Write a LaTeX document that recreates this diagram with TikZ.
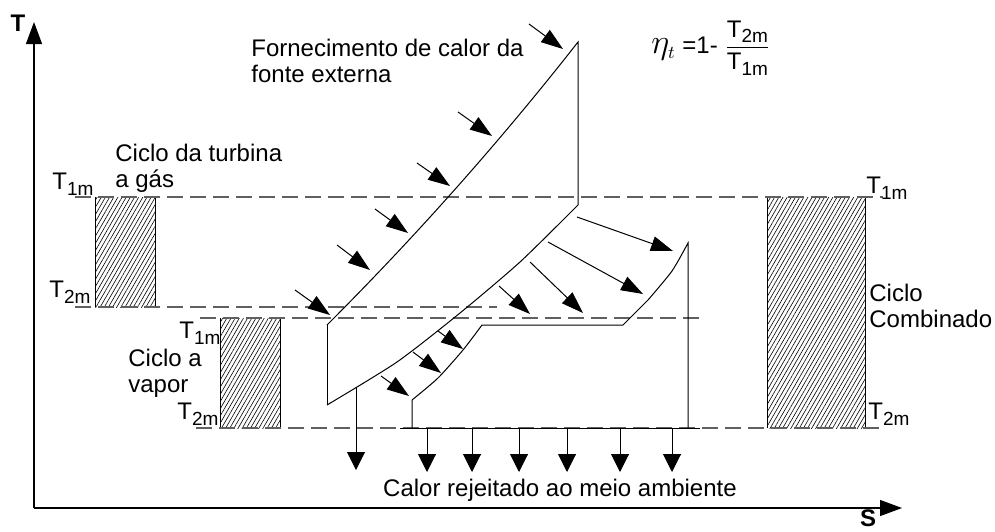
\documentclass[tikz,border=0pt]{standalone}
\usepackage{fontspec}
\setmainfont{Liberation Sans}
\usetikzlibrary{arrows.meta,patterns.meta}
\newcommand{\Tsb}[1]{T\raisebox{-0.45ex}{\fontsize{9.5}{9.5}\selectfont #1}}
\begin{document}
\begin{tikzpicture}[x=0.5pt,y=-0.5pt,
	every node/.style={font=\fontsize{12}{13}\selectfont,inner sep=0pt},
	level/.style={gray!75!black,line width=0.6pt,dash pattern=on 8pt off 3.5pt},
	hatchbox/.style={pattern={Lines[angle=60,distance=1.8pt,line width=0.3pt]}},
	heat/.style={-{Triangle[length=11pt,width=7.5pt]},line width=0.5pt},
	reject/.style={-{Triangle[length=9pt,width=9pt]},line width=0.5pt},
	axis/.style={-{Triangle[length=11pt,width=8pt]},line width=0.6pt},
	cycle/.style={line width=0.5pt}]
	\useasboundingbox (0,0) rectangle (995,531);
	\draw [axis] (34,508) -- (34,22);
	\draw [axis] (34,508) -- (902,508);
	\node (tlab) at (18,23) {\bfseries T};
	\node (slab) at (868,518) {\bfseries S};
	\path [hatchbox] (95,197) rectangle (155,307);
	\draw [cycle] (95,197) -- (95,307) (155,197) -- (155,307);
	\path [hatchbox] (220,318) rectangle (280,428);
	\draw [cycle] (220,318) -- (220,428) (280,318) -- (280,428);
	\path [hatchbox] (767,197) rectangle (865,428);
	\draw [cycle] (767,197) -- (767,428) (865,197) -- (865,428);
	\draw [level] (75,197) -- (883,197);
	\draw [level] (75,307) -- (497,307);
	\draw [level] (200,318) -- (703,318);
	\draw [level] (196,428) -- (883,428);
	\node (g1m) at (73,184) {\Tsb{1m}};
	\node (g2m) at (70,292) {\Tsb{2m}};
	\node (v1m) at (200,333) {\Tsb{1m}};
	\node (v2m) at (198,414) {\Tsb{2m}};
	\node (c1m) at (887,188) {\Tsb{1m}};
	\node (c2m) at (889,414) {\Tsb{2m}};
	\node (gaslab) [anchor=west,align=left] at (115,168) {Ciclo da turbina\\a gás};
	\node (vaplab) [anchor=west,align=left] at (128,373) {Ciclo a\\vapor};
	\node (comblab) [anchor=west,align=left] at (869,306) {Ciclo\\Combinado};
	\node (inlab) [anchor=west,align=left] at (251,61) {Fornecimento de calor da\\fonte externa};
	\node (outlab) at (560,490) {Calor rejeitado ao meio ambiente};
	\node (eta) [anchor=west] at (651,48) {{\fontsize{18}{18}\selectfont$\eta_{\scriptscriptstyle t}$} =1- $\displaystyle\frac{\hbox{\Tsb{2m}}}{\hbox{\Tsb{1m}}}$};
	\coordinate (g1) at (327,325);
	\coordinate (g2) at (327,405);
	\coordinate (g3) at (578,205);
	\coordinate (g4) at (578,42);
	\draw [cycle] (g1) .. controls (410,242) and (495,148) .. (g4) -- (g3);
	\draw [cycle] (g1) -- (g2);
	\draw [cycle] plot [smooth,tension=0.4] coordinates {(327,405) (397,362) (460,313) (520,262) (578,205)};
	\coordinate (s1) at (412,428);
	\coordinate (s2) at (688,243);
	\draw [cycle] (s1) -- (412,400) plot [smooth,tension=0.4] coordinates {(412,400) (438,378) (463,350) (482,325)} -- (623,325) -- (648,300) plot [smooth,tension=0.4] coordinates {(648,300) (672,271) (688,243)} -- (688,428);
	\draw [cycle] (400,428) -- (700,428);
	\draw [reject] (356,388) -- (356,470);
	\foreach \x in {427,472,519,567,620,672}
		\draw [reject] (\x,428) -- (\x,472);
	\foreach \a/\b/\c/\d in {529/24/563/49,458/112/492/136,417/163/450/186,375/209/408/233,337/245/370/270,295/290/330/315}
		\draw [heat] (\a,\b) -- (\c,\d);
	\foreach \a/\b/\c/\d in {577/217/673/251,548/242/643/294,530/262/583/313,499/286/530/314,438/331/463/349,413/352/441/373,381/376/409/396}
		\draw [heat] (\a,\b) -- (\c,\d);
\end{tikzpicture}
\end{document}
